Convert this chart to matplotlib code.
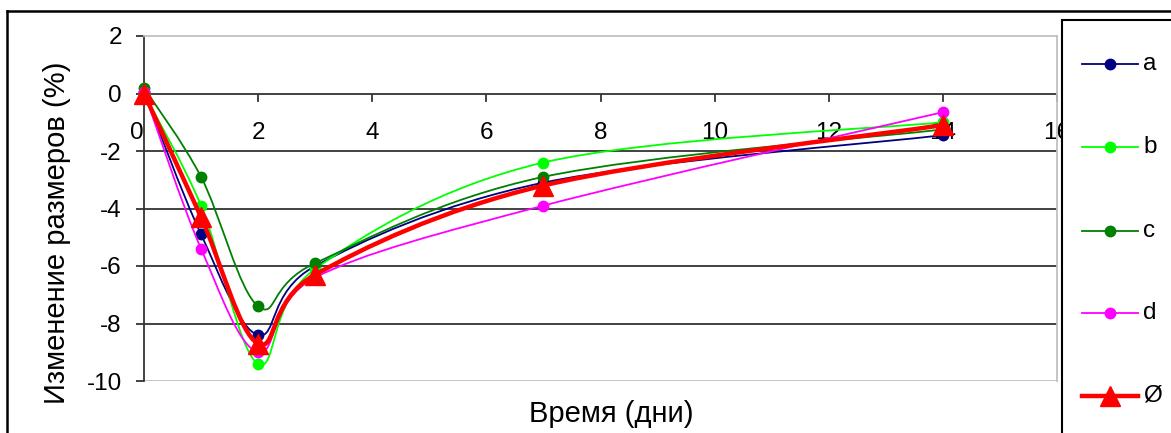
import numpy as np
import matplotlib
matplotlib.use("Agg")
import matplotlib.pyplot as plt
from matplotlib.path import Path
from matplotlib.patches import PathPatch, Rectangle
from matplotlib.lines import Line2D

plt.rcParams['font.family'] = ['Liberation Sans', 'DejaVu Sans']

days = [0, 1, 2, 3, 7, 14]
series_a = [0.05, -4.9, -8.4, -6.0, -3.1, -1.45]
series_b = [0.0, -3.9, -9.4, -6.1, -2.4, -1.0]
series_c = [0.2, -2.9, -7.4, -5.9, -2.9, -1.25]
series_d = [0.05, -5.4, -9.0, -6.4, -3.9, -0.65]
series_avg = [0.0, -4.3, -8.7, -6.3, -3.2, -1.1]
labels = ['a', 'b', 'c', 'd', 'Ø']
colors = ['#000080', '#00FF00', '#008000', '#FF00FF', '#FF0000']

x_ticks = [0, 2, 4, 6, 8, 10, 12, 14, 16]
y_ticks = [2, 0, -2, -4, -6, -8, -10]

W, H = 1171, 433
fig = plt.figure(figsize=(W / 100, H / 100), dpi=100)
ax = fig.add_axes([144 / W, 1 - 381 / H, (1057 - 144) / W, (381 - 36) / H])
ax.set_xlim(0, 16)
ax.set_ylim(-10, 2)


def smooth_path(xs, ys):
    pts = np.column_stack([xs, ys]).astype(float)
    n = len(pts)
    verts = [pts[0]]
    codes = [Path.MOVETO]
    for i in range(n - 1):
        p0 = pts[i - 1] if i > 0 else pts[i]
        p1 = pts[i]
        p2 = pts[i + 1]
        p3 = pts[i + 2] if i + 2 < n else pts[i + 1]
        c1 = p1 + (p2 - p0) / 6.0
        c2 = p2 - (p3 - p1) / 6.0
        verts += [c1, c2, p2]
        codes += [Path.CURVE4] * 3
    return Path(verts, codes)


all_series = [series_a, series_b, series_c, series_d, series_avg]
for k, (ys, col) in enumerate(zip(all_series, colors)):
    lw = 3.2 if k == 4 else 1.3
    patch = PathPatch(smooth_path(days, ys), facecolor='none', edgecolor=col,
                      lw=lw, zorder=3 + k, capstyle='round', joinstyle='round')
    ax.add_patch(patch)
    if k == 4:
        ax.plot(days, ys, linestyle='none', marker='^', color=col, markersize=15,
                zorder=3 + k, clip_on=False)
    else:
        ax.plot(days, ys, linestyle='none', marker='o', color=col, markersize=7.5,
                zorder=3 + k, clip_on=False)

# grid
for yv in [-2, -4, -6, -8]:
    ax.axhline(yv, color='#333333', lw=1.3, zorder=1)

ax.spines['top'].set_color('#c0c0c0')
ax.spines['right'].set_color('#c0c0c0')
ax.spines['bottom'].set_visible(False)
ax.spines['left'].set_color('#333333')
ax.spines['left'].set_linewidth(1.3)
for s in ['top', 'right']:
    ax.spines[s].set_linewidth(1.3)
ax.axhline(-10, color='#c0c0c0', lw=1.3, zorder=1)
ax.axhline(0, color='#333333', lw=1.3, zorder=2)

ax.set_yticks(y_ticks)
ax.set_yticklabels([str(v) for v in y_ticks], fontsize=17.5)
ax.tick_params(axis='y', direction='out', length=6, width=1.3, color='#333333', pad=10)

ax.set_xticks([])
x_label_shift = {0: -0.12}
for xv in x_ticks:
    ax.plot([xv, xv], [-0.05, -0.27], color='#333333', lw=1.3, zorder=2, clip_on=False)
    ax.text(xv + x_label_shift.get(xv, 0.0), -1.36, str(xv), ha='center', va='center',
            fontsize=17.5, zorder=2)

fig.text(57 / W, 1 - 233 / H, 'Изменение размеров (%)', rotation=90,
         ha='center', va='center', fontsize=21)
fig.text(611 / W, 1 - 414 / H, 'Время (дни)', ha='center', va='center', fontsize=21)

# outer border
fig.add_artist(Line2D([7 / W, 1.0], [1 - 11 / H, 1 - 11 / H], color='black', lw=1.8,
                      transform=fig.transFigure))
fig.add_artist(Line2D([7 / W, 7 / W], [0, 1 - 11 / H], color='black', lw=1.8,
                      transform=fig.transFigure))

# legend box
leg_rect = Rectangle((1062 / W, -0.05), (W - 1062 + 20) / W, (433 - 20) / H + 0.05,
                     transform=fig.transFigure, facecolor='white', edgecolor='black',
                     lw=1.5, zorder=5)
fig.add_artist(leg_rect)
leg_y = [64, 147, 231, 313, 396]
for k in range(5):
    yy = 1 - leg_y[k] / H
    lw = 3.2 if k == 4 else 1.3
    fig.add_artist(Line2D([1082 / W, 1138 / W], [yy, yy], color=colors[k], lw=lw,
                          transform=fig.transFigure, zorder=6))
    fig.add_artist(Line2D([1110 / W], [yy], color=colors[k], lw=0,
                          marker='^' if k == 4 else 'o',
                          markersize=15 if k == 4 else 7.5,
                          transform=fig.transFigure, zorder=6))
    fig.text(1143 / W, yy, labels[k], ha='left', va='center', fontsize=17.5, zorder=7)

fig.savefig('out.png', dpi=100)
